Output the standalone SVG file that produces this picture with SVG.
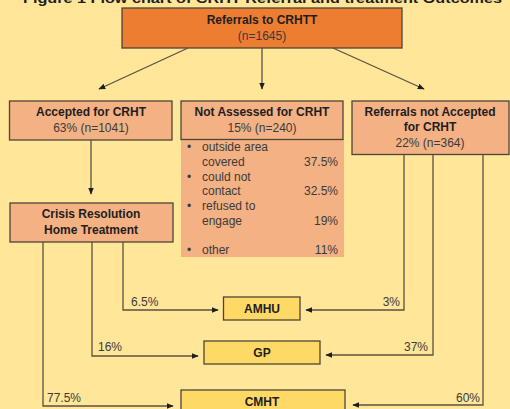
<svg xmlns="http://www.w3.org/2000/svg" width="510" height="409" viewBox="0 0 510 409">
<style>
text{font-family:"Liberation Sans",Arial,sans-serif;fill:#3b3b3b;font-size:12px}
.b{font-weight:bold;fill:#1e1e1e}
.c{text-anchor:middle}
.r{text-anchor:end}
.box{stroke:#4d4536;stroke-width:1.3}
.sal{fill:#F4B183}
.yel{fill:#FFD966}
.ln{fill:none;stroke:#5a5242;stroke-width:1.3}
</style>
<defs>
<marker id="ah" viewBox="0 0 10 10" refX="9" refY="5" markerWidth="7" markerHeight="7" markerUnits="userSpaceOnUse" orient="auto">
<path d="M0,1 L10,5 L0,9 z" fill="#1e1e1e"/>
</marker>
</defs>
<rect width="510" height="409" fill="#FFE699"/>
<text class="b" x="23" y="3" font-size="14" textLength="479" lengthAdjust="spacingAndGlyphs">Figure 1 Flow chart of CRHT Referral and treatment Outcomes</text>
<g id="referrals">
<rect class="box" x="122" y="8" width="280" height="40" fill="#ED7D31"/>
<text class="b c" x="262" y="24">Referrals to CRHTT</text>
<text class="c" x="262" y="40">(n=1645)</text>
</g>
<g id="accepted">
<rect class="box sal" x="9.5" y="101" width="162.5" height="39"/>
<text class="b c" x="91" y="116">Accepted for CRHT</text>
<text class="c" x="91" y="132" font-size="12.5">63% (n=1041)</text>
</g>
<g id="notassessed">
<rect class="sal" x="181" y="139" width="163" height="118"/>
<rect class="box sal" x="181" y="101" width="162" height="38.5"/>
<text class="b c" x="262" y="116">Not Assessed for CRHT</text>
<text class="c" x="262" y="132" font-size="12.5">15% (n=240)</text>
<text x="187" y="151">•</text><text x="202" y="151">outside area</text>
<text x="202" y="166">covered</text><text class="r" x="338" y="166">37.5%</text>
<text x="187" y="181">•</text><text x="202" y="181">could not</text>
<text x="202" y="195">contact</text><text class="r" x="338" y="195">32.5%</text>
<text x="187" y="210">•</text><text x="202" y="210">refused to</text>
<text x="202" y="225">engage</text><text class="r" x="338" y="225">19%</text>
<text x="187" y="254">•</text><text x="202" y="254">other</text><text class="r" x="338" y="254">11%</text>
</g>
<g id="notaccepted">
<rect class="box sal" x="352" y="101" width="157" height="53.5"/>
<text class="b c" x="430" y="116">Referrals not Accepted</text>
<text class="b c" x="430" y="131">for CRHT</text>
<text class="c" x="430" y="147" font-size="12.5">22% (n=364)</text>
</g>
<g id="crht">
<rect class="box sal" x="10" y="203" width="163" height="39"/>
<text class="b c" x="91" y="218">Crisis Resolution</text>
<text class="b c" x="91" y="234">Home Treatment</text>
</g>
<g id="amhu">
<rect class="box yel" x="223.5" y="297" width="76.5" height="23"/>
<text class="b c" x="262" y="313">AMHU</text>
</g>
<g id="gp">
<rect class="box yel" x="204" y="341" width="116" height="23"/>
<text class="b c" x="262" y="357">GP</text>
</g>
<g id="cmht">
<rect class="box yel" x="181" y="390" width="164" height="25"/>
<text class="b c" x="262" y="406">CMHT</text>
</g>
<g id="connectors">
<line class="ln" x1="188" y1="48" x2="99" y2="89" marker-end="url(#ah)"/>
<line class="ln" x1="262" y1="48" x2="262" y2="89" marker-end="url(#ah)"/>
<line class="ln" x1="333" y1="48" x2="424" y2="89" marker-end="url(#ah)"/>
<line class="ln" x1="91" y1="140" x2="91" y2="194" marker-end="url(#ah)"/>
<polyline class="ln" points="123,242 123,310 218,310" marker-end="url(#ah)"/>
<polyline class="ln" points="92,242 92,356 198,356" marker-end="url(#ah)"/>
<polyline class="ln" points="43,242 43,406 173,406" marker-end="url(#ah)"/>
<polyline class="ln" points="404,155 404,310 306,310" marker-end="url(#ah)"/>
<polyline class="ln" points="433,155 433,355 326,355" marker-end="url(#ah)"/>
<polyline class="ln" points="483,155 483,405 353,405" marker-end="url(#ah)"/>
<text x="131" y="306" font-size="12.5">6.5%</text>
<text class="r" x="400" y="306" font-size="12.5">3%</text>
<text x="98" y="351" font-size="12.5">16%</text>
<text class="r" x="428" y="351" font-size="12.5">37%</text>
<text x="47" y="402" font-size="12.5">77.5%</text>
<text class="r" x="480" y="402" font-size="12.5">60%</text>
</g>
</svg>
